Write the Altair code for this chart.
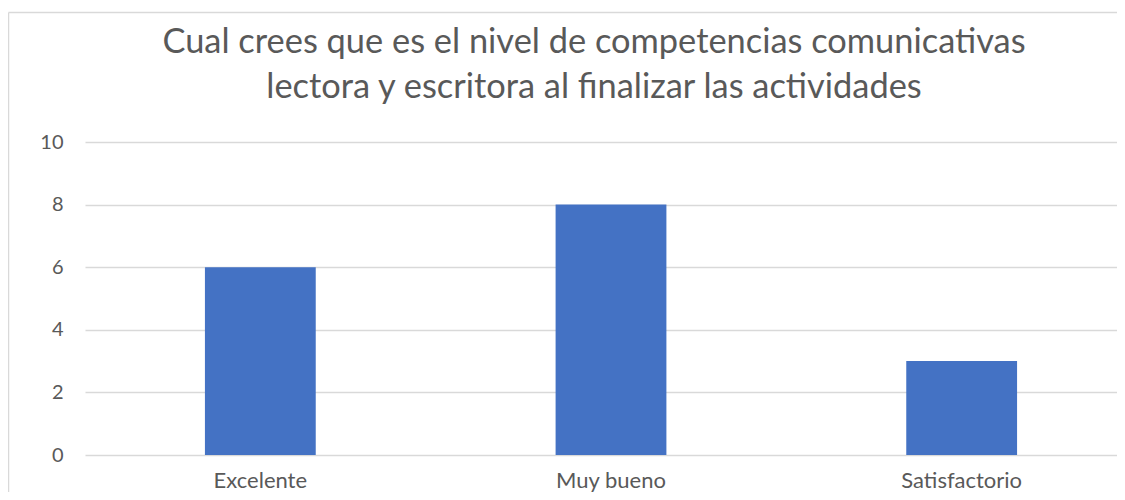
import altair as alt
import pandas as pd

categories = ["Excelente", "Muy bueno", "Satisfactorio"]
values = [6, 8, 3]
y_ticks = [0, 2, 4, 6, 8, 10]
title_lines = ["Cual crees que es el nivel de competencias comunicativas",
               "lectora y escritora al finalizar las actividades"]

df = pd.DataFrame({"cat": categories, "val": values})

TXT = "#595959"
GRID = "#d9d9d9"
FONT = "Lato"

bars = alt.Chart(df).mark_bar(color="#4472c4").encode(
    x=alt.X("cat:N", sort=categories,
            scale=alt.Scale(paddingInner=0.684, paddingOuter=0.342, range=[0, 1052]),
            axis=alt.Axis(title=None, labelAngle=0, domain=False, ticks=False,
                          labelFontSize=22, labelColor=TXT, labelFont=FONT,
                          labelPadding=15)),
    y=alt.Y("val:Q", scale=alt.Scale(domain=[0, 10]),
            axis=alt.Axis(title=None, values=y_ticks, domain=False, ticks=False,
                          grid=True, gridColor=GRID, gridWidth=1.5,
                          labelFontSize=20, labelColor=TXT, labelFont=FONT,
                          labelPadding=22)),
)

one = pd.DataFrame({"a": [0]})

left_border = alt.Chart(one).mark_rule(color=GRID, strokeWidth=1.5).encode(
    x=alt.value(-76.5), y=alt.value(-129.5), y2=alt.value(360),
)
top_border = alt.Chart(one).mark_rule(color=GRID, strokeWidth=1.5).encode(
    x=alt.value(-76.5), x2=alt.value(1040), y=alt.value(-129.5),
)

title = alt.Chart(one).mark_text(
    text=title_lines, font=FONT, fontSize=34.4, color=TXT,
    align="center", baseline="alphabetic", lineHeight=45,
).encode(x=alt.value(509), y=alt.value(-89))

chart = alt.layer(left_border, top_border, title, bars).properties(
    width=1032, height=313,
    autosize=alt.AutoSizeParams(type="none"),
    padding={"left": 77, "top": 134, "right": 0, "bottom": 37},
).configure_view(strokeWidth=0)

chart.save("out.html", embed_options={"renderer": "svg", "actions": False})
